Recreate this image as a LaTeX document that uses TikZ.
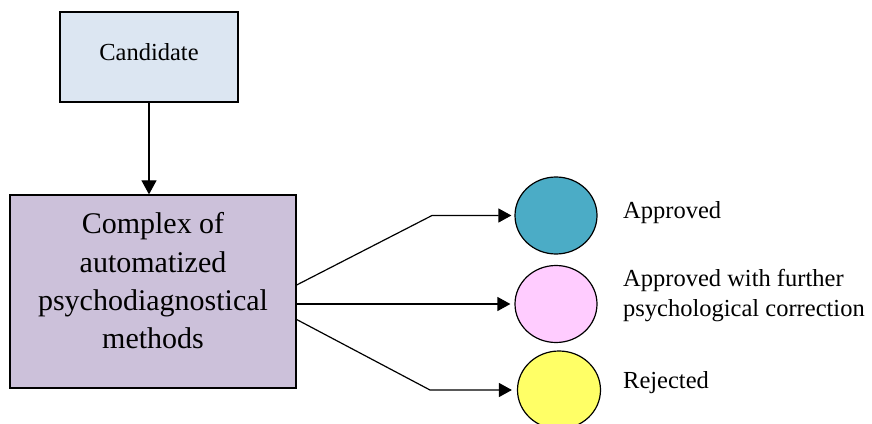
\documentclass[tikz,border=0pt]{standalone}
\usepackage{fontspec}
\setmainfont{Liberation Serif}
\usepackage{xcolor}
\usetikzlibrary{shapes.geometric, arrows.meta}

\definecolor{candfill}{HTML}{DCE6F2}
\definecolor{methfill}{HTML}{CCC1DA}
\definecolor{approvedfill}{HTML}{4BACC6}
\definecolor{furtherfill}{HTML}{FFCCFF}
\definecolor{rejectedfill}{HTML}{FFFF66}

\begin{document}
\begin{tikzpicture}[x=1pt, y=-1pt,
    box/.style={draw, line width=1.3pt, rectangle, inner sep=0pt},
    outcome/.style={draw, line width=1.2pt, ellipse, inner sep=0pt,
        minimum width=82pt, minimum height=77pt},
    flow/.style={line width=1.2pt, -{Triangle[length=13pt, width=14pt]}},
    lbl/.style={font=\fontsize{24.5}{30.7}\selectfont, align=left, inner sep=0pt}]
    \useasboundingbox (0,0) rectangle (872,423);

    % Boxes
    \node[box, fill=candfill, minimum width=178pt, minimum height=90pt,
        font=\fontsize{24.5}{29}\selectfont, text height=17pt, text depth=11pt]
        (cand) at (149,57) {Candidate};
    \node[box, fill=methfill, minimum width=286pt, minimum height=193pt,
        font=\fontsize{30}{38.3}\selectfont, align=center, text depth=21.8pt]
        (methods) at (153,291.5) {Complex of\\automatized\\psychodiagnostical\\methods};

    % Outcomes
    \node[outcome, fill=approvedfill] (approved) at (556,215.5) {};
    \node[outcome, fill=furtherfill] (further) at (556,304) {};
    \node[outcome, fill=rejectedfill, minimum width=83pt, minimum height=78pt]
        (rejected) at (559,390) {};

    % Outcome labels
    \node[lbl, anchor=base west] (approvedtxt) at (623,218.3) {Approved};
    \node[lbl, anchor=base west] (furthertxt) at (623,316.7)
        {Approved with further\\psychological correction};
    \node[lbl, anchor=base west] (rejectedtxt) at (623,388.3) {Rejected};

    % Arrows
    \draw[line width=1.2pt, -{Triangle[length=14pt, width=15pt]}]
        (cand.south) -- (cand.south |- methods.north);
    \coordinate (bendtop) at (432,215.5);
    \coordinate (bendbot) at (430,390);
    \draw[flow, shorten >=3pt] ([yshift=6.5pt]methods.east) -- (bendtop) -- (approved.west);
    \draw[flow, shorten >=4pt] (further.west -| methods.east) -- (further.west);
    \draw[flow, shorten >=5pt] ([yshift=-28pt]methods.east) -- (bendbot) -- (rejected.west);

\end{tikzpicture}
\end{document}
